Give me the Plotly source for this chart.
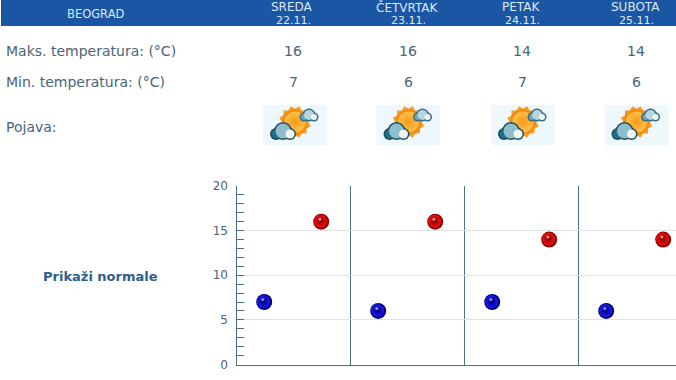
import plotly.graph_objects as go

# ---------- data ----------
city = "BEOGRAD"
days = ["SREDA", "ČETVRTAK", "PETAK", "SUBOTA"]
dates = ["22.11.", "23.11.", "24.11.", "25.11."]
max_temp = [16, 16, 14, 14]
min_temp = [7, 6, 7, 6]
row_labels = ["Maks. temperatura: (°C)", "Min. temperatura: (°C)", "Pojava:"]
toggle_label = "Prikaži normale"
y_ticks = [0, 5, 10, 15, 20]

# ---------- style / layout constants (pixels) ----------
W, H = 676, 380
PLOT_L, PLOT_T, PLOT_B = 236.5, 186, 364.5
DAY_PX = 114
TEXT = "#4a6478"
AXIS = "#4d7089"
HEADER = "#1a56a4"
col_x = [293, 408, 522, 636]
icon_x = [295, 408.5, 523, 636.5]

fig = go.Figure()

# main chart axes
x_range = [0, (W - PLOT_L) / DAY_PX]
layout_axes = dict(
    xaxis=dict(domain=[PLOT_L / W, 1], range=x_range, dtick=1, tick0=0, showgrid=True,
               gridcolor=AXIS, gridwidth=1.3, showline=True, linecolor=AXIS, linewidth=1.3,
               ticks="", showticklabels=False, zeroline=False),
    yaxis=dict(domain=[(H - PLOT_B) / H, (H - PLOT_T) / H], range=[0, 20], tickvals=y_ticks,
               showgrid=True, gridcolor="#dfe3e6", gridwidth=1, showline=True, linecolor=AXIS,
               linewidth=1.3, ticks="inside", ticklen=7, tickcolor=AXIS, tickwidth=1,
               minor=dict(dtick=1, ticks="inside", ticklen=7, tickcolor=AXIS, tickwidth=1),
               tickfont=dict(family="DejaVu Sans", size=12, color=TEXT), zeroline=False,
               ticklabelstandoff=5),
    xaxis2=dict(domain=[0, 1], range=[0, W], visible=False, anchor="y2"),
    yaxis2=dict(domain=[0, 1], range=[H, 0], visible=False, anchor="x2"),
)


def balls(xs, ys, dark, mid, name):
    fig.add_trace(go.Scatter(x=xs, y=ys, mode="markers", name=name, cliponaxis=False,
                             marker=dict(size=16, color=dark, line=dict(width=0))))
    fig.add_trace(go.Scatter(x=[v - 0.006 for v in xs], y=[v + 0.06 for v in ys], mode="markers",
                             cliponaxis=False, hoverinfo="skip",
                             marker=dict(size=13, color=mid, gradient=dict(type="radial", color=dark))))
    fig.add_trace(go.Scatter(x=[v - 0.012 for v in xs], y=[v + 0.28 for v in ys], mode="markers",
                             cliponaxis=False, hoverinfo="skip",
                             marker=dict(size=3, color="rgba(255,255,255,0.55)")))


balls([i + 0.243 for i in range(len(min_temp))], min_temp, "#00007a", "#1a1aee", "min")
balls([i + 0.743 for i in range(len(max_temp))], max_temp, "#8a0000", "#ee1010", "max")


# weather icons, pixel space
def icon_trace(xs, ys, **marker):
    fig.add_trace(go.Scatter(x=xs, y=ys, xaxis="x2", yaxis="y2", mode="markers",
                             hoverinfo="skip", marker=marker))


SUN_DX, SUN_DY = 0, 122
for a in (0, 30, 60):
    icon_trace([c + SUN_DX for c in icon_x], [SUN_DY] * 4, symbol="square", size=23,
               color="#f3a02a", angle=a)
icon_trace([c + SUN_DX for c in icon_x], [SUN_DY] * 4, size=26, color="#f28c12",
           gradient=dict(type="radial", color="#f5a020"))
icon_trace([c + SUN_DX for c in icon_x], [SUN_DY] * 4, size=21, color="#ffc04a",
           gradient=dict(type="radial", color="#f59a18"))

# clouds: (dx, dy, size) lobes
big_cloud = [(-19, 134, 9), (-12, 131, 15), (-5, 134, 9)]
small_cloud = [(9, 117, 6), (14, 115, 10), (19, 117, 6)]
for lobes, outline in ((big_cloud, "#1d4e5f"), (small_cloud, "#3a6d80")):
    for dx, y, s in lobes:
        icon_trace([c + dx for c in icon_x], [y] * 4, size=s + 3, color=outline)
    for dx, y, s in lobes:
        shade = {-19: "#1f6f88", -12: "#8fbecb", -5: "#eef6f8", 9: "#6fa8bb", 14: "#b5d6e0", 19: "#eef6f8"}[dx]
        icon_trace([c + dx for c in icon_x], [y] * 4, size=s, color=shade)

# shapes
shapes = [dict(type="rect", xref="x2", yref="y2", x0=1, x1=W, y0=0, y1=26,
               fillcolor=HEADER, line_width=0, layer="below")]
for c in icon_x:
    shapes.append(dict(type="rect", xref="x2", yref="y2", x0=c - 32, x1=c + 32, y0=105, y1=145,
                       fillcolor="#eef7fb", line_width=0, layer="below"))

# text
annotations = []


def txt(x, y, s, size=14, color=TEXT, anchor="center", bold=False):
    annotations.append(dict(xref="x2", yref="y2", x=x, y=y, text=f"<b>{s}</b>" if bold else s,
                            showarrow=False, xanchor=anchor, yanchor="middle", align="center",
                            borderpad=0, font=dict(family="DejaVu Sans", size=size, color=color)))


txt(96, 14, city, size=11.5, color="#dce8f5")
for x, d, dt in zip(col_x, days, dates):
    txt(x - 1, 7, d, size=12, color="#dce8f5")
    txt(x, 20, dt, size=11, color="#dce8f5")
for x, a, b in zip(col_x, max_temp, min_temp):
    txt(x, 51, str(a))
    txt(x, 82, str(b))
txt(5, 51, row_labels[0], anchor="left")
txt(5, 82, row_labels[1], anchor="left")
txt(5, 127, row_labels[2], anchor="left")
txt(100, 276, toggle_label, size=13, color="#2c5f8e", bold=True)

fig.update_layout(width=W, height=H, autosize=False,
                  margin=dict(l=0, r=0, t=0, b=0, pad=0, autoexpand=False),
                  paper_bgcolor="white", plot_bgcolor="rgba(0,0,0,0)", showlegend=False,
                  shapes=shapes, annotations=annotations, **layout_axes)
fig.write_html("out.html", config={"displayModeBar": False},
               post_script="document.body.style.margin='0';document.documentElement.style.overflow='hidden';")
